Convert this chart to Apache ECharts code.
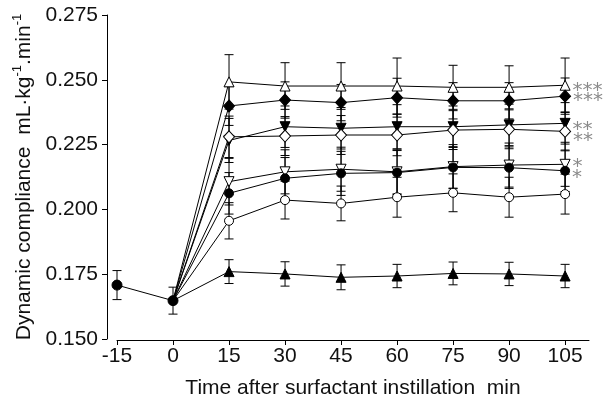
<!DOCTYPE html>
<html>
<head>
<meta charset="utf-8">
<script src="https://cdn.jsdelivr.net/npm/echarts@6/dist/echarts.min.js"></script>
<style>
html,body{margin:0;padding:0;background:#fff;}
#chart{width:612px;height:405px;}
</style>
</head>
<body>
<div id="chart"></div>
<script>
// ---- data ----
const xTicks = [-15, 0, 15, 30, 45, 60, 75, 90, 105];
const yTicks = [0.150, 0.175, 0.200, 0.225, 0.250, 0.275];
const times = [15, 30, 45, 60, 75, 90, 105];
const baseTimes = [-15, 0];
const baseValues = [0.1708, 0.1648];
const baseErrors = [0.0056, 0.0052];

const openTriUp      = [0.2492, 0.2476, 0.2476, 0.2476, 0.2471, 0.2471, 0.2479];
const filledDiamond  = [0.2399, 0.2422, 0.2412, 0.2431, 0.2419, 0.2419, 0.2437];
const filledTriDown  = [0.2266, 0.2319, 0.2313, 0.2319, 0.2319, 0.2326, 0.2332];
const openDiamond    = [0.2280, 0.2283, 0.2287, 0.2287, 0.2306, 0.2309, 0.2301];
const openTriDown    = [0.2107, 0.2145, 0.2155, 0.2145, 0.2165, 0.2171, 0.2174];
const filledCircle   = [0.2062, 0.2120, 0.2139, 0.2142, 0.2162, 0.2161, 0.2149];
const openCircle     = [0.1956, 0.2036, 0.2023, 0.2047, 0.2064, 0.2047, 0.2059];
const filledTriUp    = [0.1760, 0.1751, 0.1738, 0.1743, 0.1753, 0.1751, 0.1743];

const errOpenTriUp     = [0.0105, 0.0090, 0.0090, 0.0108, 0.0085, 0.0083, 0.0105];
const errFilledDiamond = [0.0075, 0.0070, 0.0070, 0.0075, 0.0070, 0.0070, 0.0070];
const errFilledTriDown = [0.0085, 0.0080, 0.0080, 0.0085, 0.0080, 0.0080, 0.0080];
const errOpenDiamond   = [0.0080, 0.0075, 0.0075, 0.0080, 0.0075, 0.0075, 0.0075];
const errOpenTriDown   = [0.0090, 0.0085, 0.0085, 0.0085, 0.0085, 0.0085, 0.0085];
const errFilledCircle  = [0.0080, 0.0080, 0.0085, 0.0085, 0.0080, 0.0080, 0.0080];
const errOpenCircle    = [0.0070, 0.0073, 0.0067, 0.0077, 0.0073, 0.0077, 0.0077];
const errFilledTriUp   = [0.0046, 0.0047, 0.0048, 0.0045, 0.0044, 0.0045, 0.0045];

const significance = ['***', '***', '**', '**', '*', '*', '', ''];

const xTitle = 'Time after surfactant instillation  min';
const yTitleMain = 'Dynamic compliance  mL·kg';
const yTitleMid = '.min';
const yTitleSup = '-1';

// ---- styles ----
const FONT = "'Liberation Sans Narrow', 'Arial Narrow', 'Liberation Sans', sans-serif";
const groups = [
  {v: openTriUp,     e: errOpenTriUp,     symbol: 'triangle', rot: 0,   fill: '#fff', size: 10, lab: 6},
  {v: filledDiamond, e: errFilledDiamond, symbol: 'diamond',  rot: 0,   fill: '#000', size: [11, 12], lab: 5},
  {v: filledTriDown, e: errFilledTriDown, symbol: 'triangle', rot: 180, fill: '#000', size: 10, lab: 6},
  {v: openDiamond,   e: errOpenDiamond,   symbol: 'diamond',  rot: 0,   fill: '#fff', size: [11, 12], lab: 9},
  {v: openTriDown,   e: errOpenTriDown,   symbol: 'triangle', rot: 180, fill: '#fff', size: 10, lab: 2},
  {v: filledCircle,  e: errFilledCircle,  symbol: 'circle',   rot: 0,   fill: '#000', size: 9,  lab: 7},
  {v: openCircle,    e: errOpenCircle,    symbol: 'circle',   rot: 0,   fill: '#fff', size: 9,  lab: 0},
  {v: filledTriUp,   e: errFilledTriUp,   symbol: 'triangle', rot: 0,   fill: '#000', size: 10, lab: 0}
];

// error bar data: [x, value, err]
const errData = [];
baseTimes.forEach((t, i) => errData.push([t, baseValues[i], baseErrors[i]]));
groups.forEach(g => times.forEach((t, i) => errData.push([t, g.v[i], g.e[i]])));

const series = [];
series.push({
  type: 'custom',
  z: 1,
  silent: true,
  data: errData,
  encode: {x: 0, y: 1},
  renderItem: function (params, api) {
    const x = api.value(0), v = api.value(1), e = api.value(2);
    const top = api.coord([x, v + e]);
    const bot = api.coord([x, v - e]);
    const hw = 4.5;
    const st = {stroke: '#000', lineWidth: 1};
    return {
      type: 'group',
      children: [
        {type: 'line', shape: {x1: top[0], y1: top[1], x2: bot[0], y2: bot[1]}, style: st},
        {type: 'line', shape: {x1: top[0] - hw, y1: top[1], x2: top[0] + hw, y2: top[1]}, style: st},
        {type: 'line', shape: {x1: bot[0] - hw, y1: bot[1], x2: bot[0] + hw, y2: bot[1]}, style: st}
      ]
    };
  }
});

// baseline
series.push({
  type: 'line',
  z: 3,
  data: baseTimes.map((t, i) => [t, baseValues[i]]),
  symbol: 'circle',
  symbolSize: 10,
  itemStyle: {color: '#000', borderColor: '#000', borderWidth: 1},
  lineStyle: {color: '#000', width: 1},
  animation: false
});

groups.forEach((g, gi) => {
  const data = [{value: [0, baseValues[1]], symbol: 'none'}];
  times.forEach((t, i) => {
    const item = {value: [t, g.v[i]]};
    if (i === times.length - 1 && significance[gi]) {
      item.label = {
        show: true,
        position: 'right',
        distance: 2,
        offset: [0, g.lab],
        formatter: significance[gi],
        color: '#8a8a8a',
        fontFamily: "'DejaVu Sans', sans-serif",
        fontSize: 20
      };
    }
    data.push(item);
  });
  series.push({
    type: 'line',
    z: 3 + gi,
    data: data,
    symbol: g.symbol,
    symbolRotate: g.rot,
    symbolSize: g.size,
    showAllSymbol: true,
    itemStyle: {color: g.fill, borderColor: '#000', borderWidth: 1},
    lineStyle: {color: '#000', width: 1},
    label: {show: false},
    animation: false
  });
});

const chart = echarts.init(document.getElementById('chart'), null, {renderer: 'canvas'});
chart.setOption({
  animation: false,
  backgroundColor: '#fff',
  grid: {left: 117, right: 23, top: 15, bottom: 66, containLabel: false},
  xAxis: {
    type: 'value',
    min: -15,
    max: 111.4,
    interval: 15,
    offset: 1,
    axisLine: {show: true, onZero: false, lineStyle: {color: '#000', width: 1}},
    axisTick: {show: true, length: 5, customValues: xTicks, lineStyle: {color: '#000'}},
    axisLabel: {customValues: xTicks, color: '#111', fontSize: 21, fontFamily: FONT, margin: 6},
    splitLine: {show: false},
    name: xTitle,
    nameLocation: 'middle',
    nameGap: 38,
    nameTextStyle: {color: '#111', fontSize: 21, fontFamily: FONT}
  },
  yAxis: {
    type: 'value',
    min: 0.150,
    max: 0.275,
    interval: 0.025,
    offset: 10,
    axisLine: {show: true, onZero: false, lineStyle: {color: '#000', width: 1}},
    axisTick: {show: true, length: 5, customValues: yTicks, lineStyle: {color: '#000'}},
    axisLabel: {customValues: yTicks, formatter: v => v.toFixed(3), color: '#111', fontSize: 21, fontFamily: FONT, margin: 9},
    splitLine: {show: false},
    name: '{n|' + yTitleMain + '}{s|' + yTitleSup + '}{n|' + yTitleMid + '}{s|' + yTitleSup + '}',
    nameLocation: 'middle',
    nameRotate: 90,
    nameGap: 72,
    nameTextStyle: {
      color: '#111',
      fontFamily: FONT,
      rich: {
        n: {fontSize: 21, fontFamily: FONT, color: '#111', lineHeight: 24, verticalAlign: 'bottom'},
        s: {fontSize: 13, fontFamily: FONT, color: '#111', lineHeight: 24, verticalAlign: 'top'}
      }
    }
  },
  series: series
});
</script>
</body>
</html>
